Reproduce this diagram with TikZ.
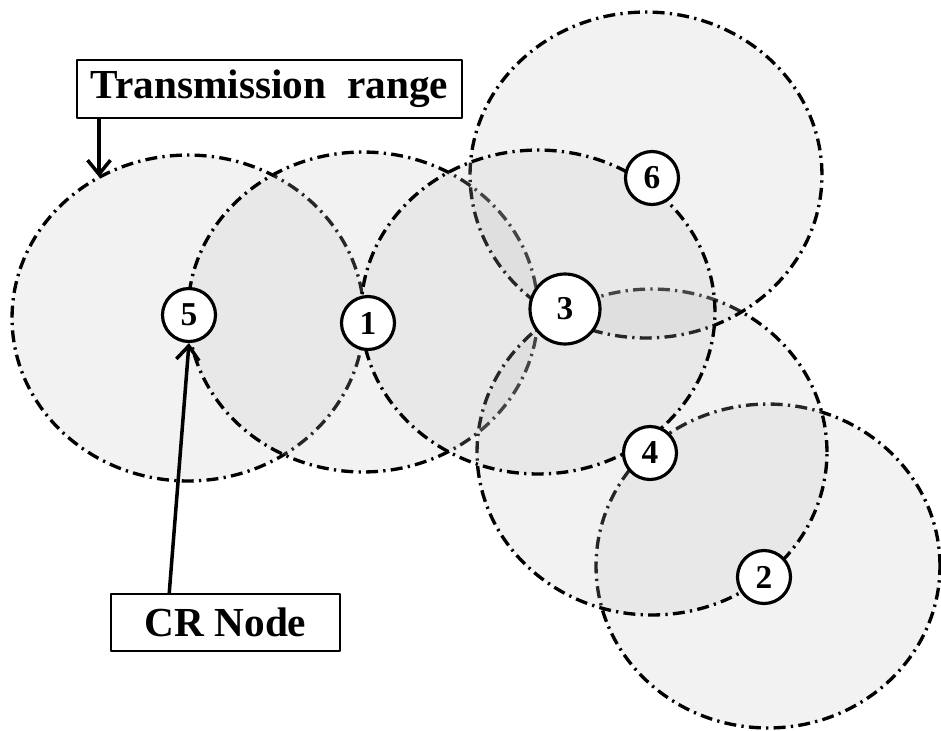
\documentclass[tikz,border=0pt]{standalone}
\usepackage{fontspec}
\setmainfont{Liberation Serif}
\usetikzlibrary{arrows.meta}
\definecolor{rangegray}{gray}{0.745}
\tikzset{
  txrange/.style={draw=black, line width=1.9pt, fill=rangegray, fill opacity=0.2,
    dash pattern=on 6.8pt off 3pt on 1.3pt off 3pt},
  crnode/.style={circle, draw=black, line width=1.8pt, fill=white, inner sep=0pt,
    minimum size=1.06cm, font=\fontsize{19}{22}\selectfont\bfseries},
  labelbox/.style={draw=black, line width=0.9pt, fill=white, inner sep=0pt,
    font=\fontsize{23.5}{26}\selectfont\bfseries},
  pointer/.style={line width=2pt, -{Straight Barb[length=8pt,width=13pt,line width=2pt]}}
}
\begin{document}
\begin{tikzpicture}[x=0.02cm, y=-0.02cm, line join=round]
  \useasboundingbox (0,0) rectangle (941,731);

  % transmission ranges
  \path[txrange] (188,318) ellipse [x radius=3.52cm, y radius=3.26cm];
  \path[txrange] (363,312) ellipse [x radius=3.50cm, y radius=3.20cm];
  \path[txrange] (768,566) ellipse [x radius=3.44cm, y radius=3.24cm];
  \path[txrange] (652,452) ellipse [x radius=3.50cm, y radius=3.26cm];
  \path[txrange] (646,175) ellipse [x radius=3.52cm, y radius=3.26cm];
  \path[txrange] (538,312) ellipse [x radius=3.54cm, y radius=3.24cm];

  % nodes
  \node[crnode] (n5) at (189,315) {5};
  \node[crnode] (n1) at (368,323) {1};
  \node[crnode, minimum size=1.4cm] (n3) at (565,309) {3};
  \node[crnode] (n6) at (652,178) {6};
  \node[crnode] (n4) at (650,453) {4};
  \node[crnode] (n2) at (764,577) {2};

  % labels
  \node[labelbox, minimum width=7.7cm, minimum height=1.16cm] (trange) at (269.5,89) {Transmission\ \ range};
  \node[labelbox, minimum width=4.58cm, minimum height=1.14cm] (crlabel) at (225.5,622.5) {CR Node};

  \coordinate (rangeedge) at (99,177);
  \draw[pointer] (trange.south west -| rangeedge) -- (rangeedge);
  \draw[pointer] (crlabel.north west) ++(1.18cm,0) coordinate (crfoot) -- (n5.south);
\end{tikzpicture}
\end{document}
